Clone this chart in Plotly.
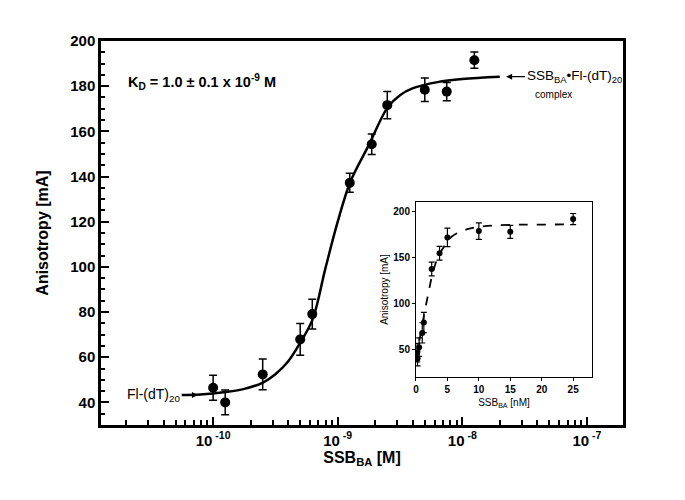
import plotly.graph_objects as go

# measured points (main panel, log scale in M)
conc_M = [1.0e-10, 1.25e-10, 2.5e-10, 5.0e-10, 6.25e-10, 1.25e-9, 1.875e-9, 2.5e-9, 5.0e-9, 7.5e-9, 1.25e-8]
aniso = [46.5, 40.0, 52.4, 67.9, 79.1, 137.2, 154.3, 171.6, 178.4, 177.6, 191.5]
err_main = [5.5, 5.5, 6.8, 7.0, 6.6, 4.2, 4.5, 6.0, 5.2, 4.0, 3.6]

# fitted curve
fit_M = [5.6e-11, 7.9e-11, 1.26e-10, 1.78e-10, 2.51e-10, 3.16e-10, 3.98e-10, 5.01e-10, 6.31e-10,
         7.94e-10, 1.0e-9, 1.26e-9, 1.78e-9, 2.51e-9, 3.16e-9, 3.98e-9, 6.31e-9, 1.0e-8, 2.0e-8]
fit_aniso = [43.3, 43.5, 44.6, 46.0, 48.8, 52.5, 58.0, 66.5, 77.0,
             99.0, 120.0, 137.5, 154.0, 170.5, 176.0, 179.0, 181.8, 183.2, 184.2]

# inset (linear scale in nM)
conc_nM = [0.2, 0.25, 0.5, 1.0, 1.25, 2.5, 3.75, 5.0, 10.0, 15.0, 25.0]
err_inset = [10, 8, 10, 11, 11, 7.5, 7.5, 10, 9, 7, 6]
fit_nM = [0, 0.6, 1.3, 2.0, 2.7, 3.5, 4.5, 5.6, 7.0, 8.5, 10, 12.5, 16, 20, 25]
fit_nM_aniso = [40, 62, 88, 112, 134, 150, 162, 172, 177.5, 181, 183, 184.5, 185.3, 185.5, 185.7]

x_ticks = [1e-10, 1e-9, 1e-8, 1e-7]
x_ticktext = ["10<sup> -10</sup>", "10<sup> -9</sup>", "10<sup> -8</sup>", "10<sup> -7</sup>"]
x_minor = [m * 10.0 ** e for e in range(-11, -6) for m in range(2, 10)]

FONT = "Liberation Sans, Arial, sans-serif"

fig = go.Figure()

fig.add_trace(go.Scatter(x=fit_M, y=fit_aniso, mode="lines", line=dict(color="black", width=2.5, shape="spline"),
                         showlegend=False, hoverinfo="skip"))
fig.add_trace(go.Scatter(x=conc_M, y=aniso, mode="markers", marker=dict(color="black", size=10),
                         error_y=dict(type="data", array=err_main, color="black", thickness=1.5, width=4),
                         showlegend=False))

fig.add_trace(go.Scatter(x=fit_nM, y=fit_nM_aniso, mode="lines", xaxis="x2", yaxis="y2",
                         line=dict(color="black", width=1.8, dash="dash", shape="spline"),
                         showlegend=False, hoverinfo="skip"))
fig.add_trace(go.Scatter(x=conc_nM, y=aniso, mode="markers", xaxis="x2", yaxis="y2",
                         marker=dict(color="black", size=6),
                         error_y=dict(type="data", array=err_inset, color="black", thickness=1.2, width=3),
                         showlegend=False))

# the page body adds 8px on the top and left, so the margins are trimmed by that much
fig.update_layout(
    width=685, height=500,
    margin=dict(l=93, r=70, t=33, b=83),
    paper_bgcolor="white", plot_bgcolor="white",
    font=dict(family=FONT, color="black"),
    xaxis=dict(type="log", range=[-10.9, -6.71], tickvals=x_ticks, ticktext=x_ticktext,
               ticks="inside", ticklen=8, tickwidth=2, tickcolor="black",
               minor=dict(tickvals=x_minor, ticks="inside", ticklen=5, tickwidth=2, tickcolor="black"),
               showline=True, linewidth=2.5, linecolor="black", mirror=True, showgrid=False, zeroline=False,
               tickfont=dict(size=15, family=FONT, weight="bold"), automargin=False,
               title=dict(text="<b>SSB<sub>BA</sub> [M]</b>", font=dict(size=16), standoff=4)),
    yaxis=dict(range=[30, 200], tickvals=[40, 60, 80, 100, 120, 140, 160, 180, 200],
               ticks="inside", ticklen=8, tickwidth=2, tickcolor="black",
               minor=dict(dtick=5, tick0=0, ticks="inside", ticklen=4, tickwidth=2, tickcolor="black"),
               showline=True, linewidth=2.5, linecolor="black", mirror=True, showgrid=False, zeroline=False,
               tickfont=dict(size=15, family=FONT, weight="bold"), automargin=False,
               title=dict(text="<b>Anisotropy [mA]</b>", font=dict(size=16), standoff=18)),
    xaxis2=dict(domain=[0.6034, 0.9406], anchor="y2", range=[0, 28], tickvals=[0, 5, 10, 15, 20, 25],
                ticks="outside", ticklen=3, tickwidth=1, tickcolor="black",
                showline=True, linewidth=1, linecolor="black", mirror=True, showgrid=False, zeroline=False,
                tickfont=dict(size=10, weight="bold"),
                title=dict(text="SSB<sub>BA</sub> [nM]", font=dict(size=10), standoff=4)),
    yaxis2=dict(domain=[0.125, 0.5807], anchor="x2", range=[20, 210], tickvals=[50, 100, 150, 200],
                ticks="outside", ticklen=3, tickwidth=1, tickcolor="black",
                showline=True, linewidth=1, linecolor="black", mirror=True, showgrid=False, zeroline=False,
                tickfont=dict(size=10, weight="bold"),
                title=dict(text="Anisotropy [mA]", font=dict(size=10), standoff=2)),
)

fig.add_annotation(xref="paper", yref="paper", x=0.047, y=0.893, xanchor="left", yanchor="middle",
                   text="<b>K<sub>D</sub> = 1.0 \u00b1 0.1 x 10<sup>-9</sup> M</b>", showarrow=False,
                   font=dict(size=14.5))

fig.add_annotation(x=-10.122, y=43.3, xref="x", yref="y", text="Fl-(dT)<sub>20</sub>",
                   showarrow=True, arrowhead=2, arrowsize=1, arrowwidth=1.2, arrowcolor="black",
                   ax=-44, ay=0, font=dict(size=14))

fig.add_annotation(x=-7.648, y=184.2, xref="x", yref="y", text="SSB<sub>BA</sub>\u2022Fl-(dT)<sub>20</sub>",
                   showarrow=True, arrowhead=2, arrowsize=1, arrowwidth=1.2, arrowcolor="black",
                   ax=68, ay=0, font=dict(size=13.5))

fig.add_annotation(x=-7.27, y=176.5, xref="x", yref="y", text="complex", showarrow=False,
                   font=dict(size=10))

fig.write_html("out.html")
